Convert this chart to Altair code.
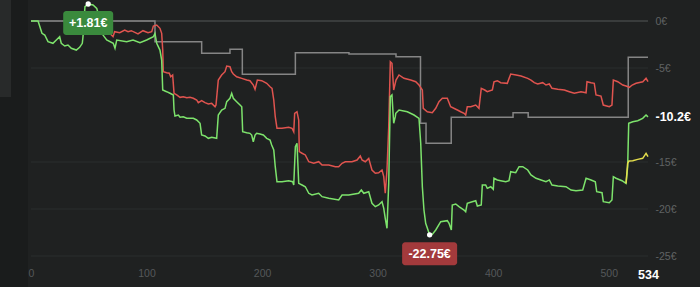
import altair as alt
import pandas as pd

# ---------------- data ----------------
green_x = [0, 6.1, 9.5, 11.9, 14.7, 19.0, 21.9, 24.8, 26.2, 29.2,
           32.0, 34.9, 39.2, 42.1, 44.4, 45.0, 46.7, 49.5, 53.7, 56.9,
           59.7, 61.2, 65.5, 71.2, 72.7, 74.2, 82.8, 88.3, 94.3, 100.1,
           105.9, 107.3, 108.8, 111.6, 113.1, 114.0, 117.4, 120.3, 123.2, 123.8,
           124.6, 127.5, 129.0, 131.8, 134.8, 140.5, 143.4, 146.3, 147.7, 150.6,
           153.5, 156.4, 160.7, 162.1, 165.0, 167.9, 169.4, 172.2, 173.7, 175.1,
           178.0, 180.9, 182.4, 183.2, 186.7, 189.5, 191.0, 192.4, 193.9, 195.3,
           198.2, 201.1, 204.0, 206.9, 208.3, 210.1, 211.4, 212.9, 217.2, 223.0,
           226.5, 227.4, 228.8, 230.2, 231.7, 234.6, 237.4, 240.4, 243.2, 249.0,
           251.9, 257.7, 266.3, 269.2, 275.0, 283.6, 285.9, 288.0, 292.3, 295.1,
           298.0, 300.9, 303.8, 305.3, 306.6, 308.1, 309.6, 311.0, 312.4, 313.9,
           315.3, 315.7, 318.5, 325.7, 331.5, 335.8, 337.3, 338.7, 340.1, 341.6,
           345.0, 347.3, 350.3, 354.6, 360.3, 361.8, 363.8, 364.6, 367.6, 370.4,
           374.8, 376.2, 377.6, 381.9, 384.9, 386.3, 389.7, 390.6, 393.5, 394.9,
           397.9, 400.1, 400.7, 403.6, 406.5, 410.9, 413.7, 415.2, 419.5, 422.4,
           425.6, 429.9, 432.7, 437.1, 441.4, 445.7, 448.6, 450.9, 455.9, 463.0,
           467.4, 471.7, 477.5, 480.4, 484.7, 488.4, 489.6, 494.2, 495.3, 500.5,
           502.8, 504.0, 506.3, 511.5, 515.0, 516.4, 517.3, 520.8, 525.1, 529.4,
           532.3, 534]
green_y = [0, 0, -1.31, -1.49, -2.20, -2.37, -2.02, -1.67, -2.37, -2.66,
           -2.55, -2.90, -3.09, -2.80, -2.37, -1.67, 1.52, 1.81, 1.70, 1.35,
           0.11, -1.31, -2.02, -2.37, -2.90, -2.02, -2.20, -2.02, -2.31, -2.02,
           -1.67, -1.31, -2.37, -3.09, -4.15, -7.34, -7.52, -7.69, -7.87, -9.47,
           -10.11, -10.0, -10.24, -10.18, -10.35, -10.35, -10.53, -10.88, -12.13, -12.23,
           -12.48, -12.37, -12.48, -10.0, -9.47, -9.29, -8.58, -8.22, -7.69, -8.22,
           -8.58, -8.94, -9.12, -11.78, -11.88, -11.95, -12.13, -12.84, -12.13, -11.95,
           -12.02, -12.13, -12.48, -12.66, -13.19, -13.72, -15.50, -17.10, -17.10, -16.99,
           -17.10, -17.45, -13.37, -13.01, -17.27, -17.45, -17.63, -18.33, -18.51, -18.33,
           -18.69, -18.86, -19.04, -18.51, -18.51, -18.33, -17.98, -18.33, -18.16, -19.39,
           -19.75, -19.57, -19.22, -19.93, -20.99, -22.05, -17.27, -8.05, -7.87, -10.88,
           -10.18, -9.82, -9.47, -9.65, -10.0, -10.35, -13.01, -17.63, -20.11, -21.52,
           -22.75, -22.7, -22.23, -21.35, -21.24, -21.52, -22.23, -19.57, -19.47, -19.75,
           -20.11, -20.29, -19.39, -19.22, -19.12, -19.68, -19.57, -17.45, -17.45, -17.80,
           -17.63, -17.90, -16.73, -16.91, -16.99, -17.10, -16.99, -16.03, -16.14, -15.50,
           -15.50, -15.85, -16.38, -16.73, -16.91, -17.10, -16.91, -17.45, -17.55, -17.63,
           -17.98, -18.05, -17.98, -16.73, -16.91, -17.10, -18.16, -18.27, -19.22, -19.33,
           -19.04, -16.56, -16.73, -16.99, -17.27, -15.50, -10.88, -10.71, -10.61, -10.35,
           -10.0, -10.2]

red_x = [61.2, 68.1, 71.0, 72.4, 76.8, 81.1, 84.0, 86.8, 92.6, 96.9,
         101.3, 104.5, 105.9, 108.8, 111.6, 113.1, 114.0, 114.5, 117.4, 119.7,
         120.9, 122.6, 123.8, 126.1, 129.0, 131.8, 134.8, 137.6, 140.5, 143.4,
         144.8, 147.7, 150.6, 153.5, 156.4, 159.3, 160.1, 162.1, 165.0, 167.9,
         169.4, 172.2, 173.7, 175.1, 178.0, 182.4, 186.7, 189.5, 192.4, 193.9,
         195.9, 199.7, 204.0, 206.9, 208.6, 210.1, 211.4, 212.9, 217.2, 223.0,
         225.9, 227.4, 228.2, 230.2, 231.7, 232.2, 234.6, 237.4, 240.4, 244.7,
         249.0, 251.9, 257.7, 263.4, 266.3, 269.2, 272.0, 277.8, 282.2, 285.0,
         286.5, 289.3, 292.3, 295.1, 298.0, 300.9, 303.8, 305.3, 306.6, 308.1,
         309.6, 311.0, 312.4, 313.9, 315.9, 318.5, 322.8, 328.6, 333.0, 335.8,
         338.7, 339.5, 343.0, 347.3, 350.3, 353.1, 356.0, 360.3, 363.2, 369.0,
         371.9, 374.8, 376.2, 377.6, 380.6, 384.9, 387.7, 389.7, 392.7, 394.9,
         399.3, 400.7, 403.6, 406.5, 412.2, 415.2, 419.8, 424.1, 429.9, 432.7,
         435.6, 438.5, 442.9, 445.7, 448.6, 450.9, 455.9, 461.6, 465.9, 470.2,
         476.0, 480.4, 481.2, 484.7, 487.5, 489.0, 493.3, 495.3, 500.5, 502.8,
         504.0, 507.8, 512.2, 515.0, 517.9, 520.3, 523.7, 529.5, 532.3, 534]
red_y = [-1.31, -1.31, -1.67, -1.14, -1.24, -0.96, -1.14, -1.03, -1.38, -1.03,
         -1.24, -1.14, -0.53, -0.43, -0.78, -1.31, -3.09, -5.39, -5.50, -5.56,
         -5.93, -5.74, -7.69, -7.87, -8.12, -8.05, -8.16, -8.12, -8.22, -8.40,
         -8.69, -8.48, -8.69, -8.83, -8.76, -9.12, -8.94, -6.28, -5.74, -5.39,
         -4.79, -4.86, -5.39, -5.64, -5.93, -6.10, -6.28, -6.35, -6.81, -7.27,
         -6.28, -6.35, -6.63, -6.99, -7.16, -8.40, -10.18, -11.41, -11.41, -11.31,
         -11.41, -11.78, -9.82, -9.65, -10.53, -13.90, -14.07, -14.25, -14.97, -15.14,
         -14.97, -15.32, -15.32, -15.50, -15.50, -15.14, -14.97, -14.97, -14.79, -14.36,
         -14.79, -14.97, -14.61, -15.85, -16.20, -16.14, -15.85, -16.56, -18.33, -15.85,
         -11.24, -4.33, -4.50, -7.34, -6.28, -5.74, -6.10, -6.28, -6.46, -6.81,
         -7.34, -9.29, -9.65, -9.76, -9.29, -8.58, -8.22, -8.22, -9.12, -9.47,
         -9.65, -9.82, -10.0, -9.12, -9.12, -8.94, -9.29, -7.16, -7.34, -7.52,
         -7.34, -6.46, -6.35, -6.56, -6.63, -5.64, -5.74, -5.85, -6.10, -6.28,
         -6.56, -6.70, -6.56, -6.81, -6.70, -7.16, -7.27, -7.34, -7.52, -7.69,
         -7.52, -7.63, -6.46, -6.56, -6.63, -7.87, -7.98, -8.94, -9.12, -8.94,
         -6.28, -6.46, -6.81, -6.91, -7.05, -6.81, -6.63, -6.46, -6.10, -6.46]

grey_x = [0, 107.3, 147.7, 172.2, 182.9, 228.8, 275.2, 315.9, 337.1, 341.9,
          363.7, 417.2, 430.3, 516.9, 534]
grey_y = [0, -2.2, -3.44, -3.0, -5.67, -3.37, -3.51, -3.79, -10.88, -13.01,
          -10.24, -9.75, -10.24, -3.86, -3.86]

yellow_x = [515.0, 516.4, 517.5, 520.8, 525.1, 529.4, 532.3, 534]
yellow_y = [-17.27, -15.14, -14.9, -14.87, -14.72, -14.61, -14.08, -14.43]

x_ticks = [0, 100, 200, 300, 400, 500, 534]
y_ticks = [0, -5, -10.2, -15, -20, -25]
grid_vals = [-5, -15, -20, -25]

max_x, max_y, max_text = [49.5], [1.81], ["+1.81€"]
min_x, min_y, min_text = [345.0], [-22.75], ["-22.75€"]

# ---------------- helpers ----------------
FONT = "Liberation Sans"


def frame(xs, ys):
    return pd.DataFrame({"x": xs, "y": ys, "o": list(range(len(xs)))})


XS = alt.Scale(domain=[0, 534], nice=False, zero=False)
YS = alt.Scale(domain=[-25, 1.81], nice=False, zero=False)

x_axis = alt.Axis(
    values=x_ticks, title=None, grid=False, domain=False, ticks=False,
    labelPadding=12, labelFont=FONT, labelFlush=False, labelOverlap=False,
    labelFontSize=alt.condition("datum.value == 534", alt.value(12.5), alt.value(10.5)),
    labelFontWeight=alt.condition("datum.value == 534", alt.value("bold"), alt.value("normal")),
    labelColor=alt.condition("datum.value == 534", alt.value("#ffffff"), alt.value("#55585a")),
)
y_axis = alt.Axis(
    values=y_ticks, title=None, grid=False, domain=False, ticks=False,
    orient="right", labelPadding=7, labelFont=FONT, labelBaseline="middle",
    labelFlush=False, labelOverlap=False,
    labelExpr="datum.value + '€'",
    labelFontSize=alt.condition("datum.value == -10.2", alt.value(12.5), alt.value(10.5)),
    labelFontWeight=alt.condition("datum.value == -10.2", alt.value("bold"), alt.value("normal")),
    labelColor=alt.condition("datum.value == -10.2", alt.value("#ffffff"), alt.value("#606364")),
)

XE = alt.X("x:Q", scale=XS, axis=x_axis)
YE = alt.Y("y:Q", scale=YS, axis=y_axis)

# ---------------- layers ----------------
strip = alt.Chart(pd.DataFrame({"k": [0]})).mark_rect(color="#1a1c1c").encode(
    x=alt.value(-31), x2=alt.value(-3), y=alt.value(-4), y2=alt.value(283))
block = alt.Chart(pd.DataFrame({"k": [0]})).mark_rect(color="#282a2a").encode(
    x=alt.value(-31), x2=alt.value(-20), y=alt.value(-4), y2=alt.value(93))

grid = alt.Chart(pd.DataFrame({"y": grid_vals})).mark_rule(
    color="#2b2e2f", strokeWidth=1).encode(y=YE)
zero = alt.Chart(pd.DataFrame({"y": [0]})).mark_rule(
    color="#555858", strokeWidth=1.2).encode(y=YE)

grey = alt.Chart(frame(grey_x, grey_y)).mark_line(
    color="#858585", strokeWidth=1.5, interpolate="step-after").encode(
    x=XE, y=YE, order="o:Q")
red = alt.Chart(frame(red_x, red_y)).mark_line(
    color="#e0544f", strokeWidth=1.5).encode(x=XE, y=YE, order="o:Q")
green = alt.Chart(frame(green_x, green_y)).mark_line(
    color="#7de36c", strokeWidth=1.5).encode(x=XE, y=YE, order="o:Q")
yellow = alt.Chart(frame(yellow_x, yellow_y)).mark_line(
    color="#e4de4c", strokeWidth=1.5).encode(x=XE, y=YE, order="o:Q")

max_df = pd.DataFrame({"x": max_x, "y": max_y, "t": max_text})
min_df = pd.DataFrame({"x": min_x, "y": min_y, "t": min_text})

max_box = alt.Chart(max_df).mark_rect(
    width=50, height=24, cornerRadius=3, color="#3a8a3d", yOffset=19).encode(x=XE, y=YE)
max_txt = alt.Chart(max_df).mark_text(
    color="#ffffff", font=FONT, fontSize=12.5, fontWeight="bold", dy=19,
    baseline="middle", align="center").encode(x=XE, y=YE, text="t:N")
min_box = alt.Chart(min_df).mark_rect(
    width=55, height=23, cornerRadius=3, color="#a33a3c", yOffset=19).encode(x=XE, y=YE)
min_txt = alt.Chart(min_df).mark_text(
    color="#ffffff", font=FONT, fontSize=12.5, fontWeight="bold", dy=19,
    baseline="middle", align="center").encode(x=XE, y=YE, text="t:N")

dots = alt.Chart(pd.concat([max_df, min_df])).mark_point(
    filled=True, color="#ffffff", size=28, opacity=1).encode(x=XE, y=YE)

chart = alt.layer(
    strip, block, grid, zero, grey, red, green, yellow,
    max_box, min_box, max_txt, min_txt, dots
).properties(
    width=617, height=252,
    autosize=alt.AutoSizeParams(type="none"),
    padding={"left": 31, "top": 4, "right": 52, "bottom": 31},
    background="#1f2121",
).configure_view(stroke=None)

chart.save("out.html", embed_options={"renderer": "svg", "actions": False})
